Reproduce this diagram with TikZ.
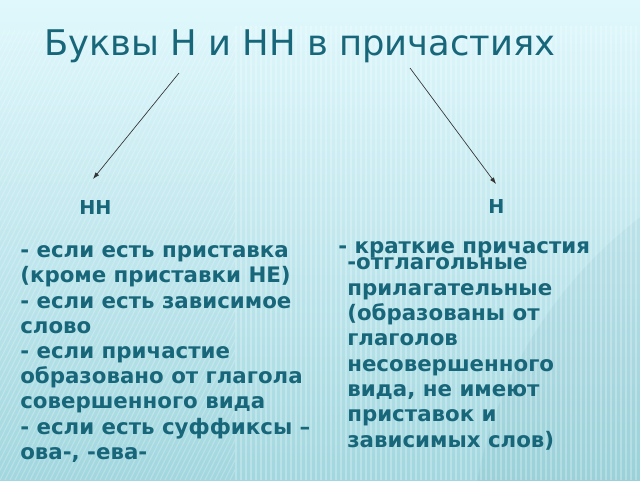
\documentclass[tikz,border=0pt]{standalone}
\usepackage{fontspec}
\setmainfont{DejaVu Sans}
\usetikzlibrary{arrows.meta}
\definecolor{tealtext}{HTML}{186679}
\definecolor{bgtop}{HTML}{E0F8FC}
\definecolor{bgmid}{HTML}{C6EEF3}
\definecolor{bgbottom}{HTML}{A2D7DF}
\tikzstyle{heading}=[text=tealtext, inner sep=0pt, anchor=base west
,font=\fontsize{26.5}{32}\selectfont
]
\tikzstyle{letter}=[text=tealtext, inner sep=0pt, anchor=base west
,font=\bfseries\fontsize{14.4}{17}\selectfont
]
\tikzstyle{ruleline}=[text=tealtext, inner sep=0pt, anchor=base west
,font=\bfseries\fontsize{16}{19}\selectfont
]
\tikzstyle{edge} = [draw,black!80,line width=0.5pt,-{Latex[length=5pt,width=3.5pt]}]
\tikzstyle{stripe} = [white,opacity=0.25,line width=0.8pt]

\begin{document}
\begin{tikzpicture}[x=0.75pt,y=-0.75pt]
    \useasboundingbox (0,0) rectangle (640,480);
    % Background with stripes
    \shade[top color=bgtop, middle color=bgmid, bottom color=bgbottom] (0,0) rectangle (640,480);
    \fill[tealtext,opacity=0.05] (900,560) circle (430);
    \begin{scope}
        \clip (0,30) rectangle (235,480);
        \foreach \x in {-240,-235,...,240}
            \draw[stripe] (\x,480) -- (\x+225,30);
    \end{scope}
    \foreach \x in {236,241,...,640}
        \draw[stripe] (\x,26) -- (\x,480);
    % Title and the two letters
    \node[heading] (title) at (44,55) {Буквы Н и НН в причастиях};
    \node[letter] (nn) at (79,214) {НН};
    \node[letter] (n) at (488,213) {Н};
    % Rules for НН
    \foreach \y/\txt [count=\i] in {257/{- если есть приставка}, 282/{(кроме приставки НЕ)},
        308/{- если есть зависимое}, 333/{слово}, 358/{- если причастие},
        383/{образовано от глагола}, 408/{совершенного вида},
        434/{- если есть суффиксы –}, 459/{ова-, -ева-}}
        \node[ruleline] (left\i) at (20,\y) {\txt};
    % Rules for Н
    \node[ruleline] (short) at (338,253) {- краткие причастия};
    \foreach \y/\txt [count=\i] in {269/{-отглагольные}, 295/{прилагательные},
        320/{(образованы от}, 345/{глаголов}, 371/{несовершенного},
        396/{вида, не имеют}, 421/{приставок и}, 447/{зависимых слов)}}
        \node[ruleline] (right\i) at (347,\y) {\txt};
    % Arrows from the title
    \coordinate (lstart) at (179,73);
    \coordinate (lend) at (93,179);
    \coordinate (rstart) at (410,68);
    \coordinate (rend) at (496,184);
    \foreach \source/ \dest in {lstart/lend, rstart/rend}
        \path[edge] (\source) -- (\dest);
\end{tikzpicture}
\end{document}
